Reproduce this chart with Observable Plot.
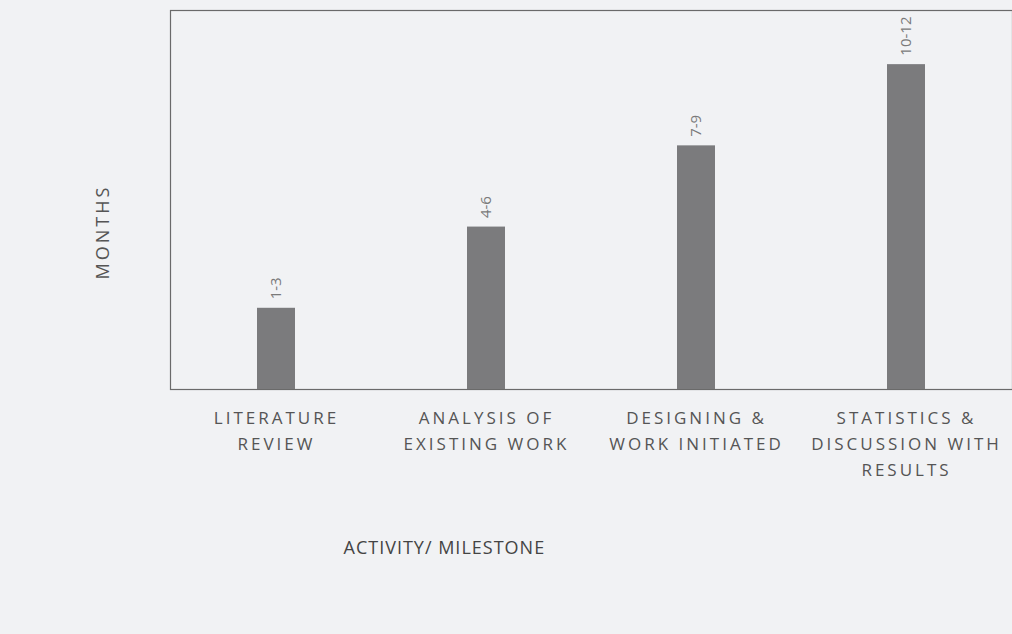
<!DOCTYPE html>
<html>
<head>
<meta charset="utf-8">
<script src="https://cdn.jsdelivr.net/npm/d3@7"></script>
<script src="https://cdn.jsdelivr.net/npm/@observablehq/plot@0.6"></script>
<style>
  html, body { margin: 0; padding: 0; background: #f1f2f4; }
  #chart svg { display: block; }
  g[aria-label="x-axis tick label"] text { letter-spacing: 3px; }
  .ytitle text { letter-spacing: 3px; }
  .xtitle text { letter-spacing: 1px; }
</style>
</head>
<body>
<div id="chart"></div>
<script>
const activities = [
  "LITERATURE\nREVIEW",
  "ANALYSIS OF\nEXISTING WORK",
  "DESIGNING &\nWORK INITIATED",
  "STATISTICS &\nDISCUSSION WITH\nRESULTS"
];
const monthEnd = [3, 6, 9, 12];
const monthLabels = ["1-3", "4-6", "7-9", "10-12"];
const yAxisTitle = "MONTHS";
const xAxisTitle = "ACTIVITY/ MILESTONE";

const data = activities.map((a, i) => ({activity: a, value: monthEnd[i], label: monthLabels[i]}));

const chart = Plot.plot({
  width: 1012,
  height: 634,
  marginLeft: 170,
  marginRight: 0,
  marginTop: 10,
  marginBottom: 245,
  style: {background: "transparent", fontFamily: "'Open Sans', sans-serif"},
  x: {domain: activities, paddingInner: 0.82, paddingOuter: 0.41},
  y: {domain: [0, 14]},
  marks: [
    Plot.frame({stroke: "#6a6a6a", strokeWidth: 1.2}),
    Plot.barY(data, {x: "activity", y: "value", fill: "#7b7b7d"}),
    Plot.text(data, {x: "activity", y: "value", text: "label", rotate: -90, textAnchor: "start", dy: -9, fontSize: 15, fill: "#7a7a7a"}),
    Plot.axisX({tickSize: 0, tickPadding: 16, fontSize: 17, lineHeight: 1.52, color: "#555", label: null}),
    Plot.axisY({ticks: [], label: null}),
    Plot.text([yAxisTitle], {frameAnchor: "left", text: d => d, rotate: -90, textAnchor: "middle", dx: -67, dy: 32, fontSize: 18, fill: "#555", className: "ytitle"}),
    Plot.text([xAxisTitle], {frameAnchor: "bottom-left", text: d => d, textAnchor: "start", dx: 173, dy: 164, fontSize: 18, fill: "#444", className: "xtitle"})
  ]
});
document.getElementById("chart").append(chart);
</script>
</body>
</html>
